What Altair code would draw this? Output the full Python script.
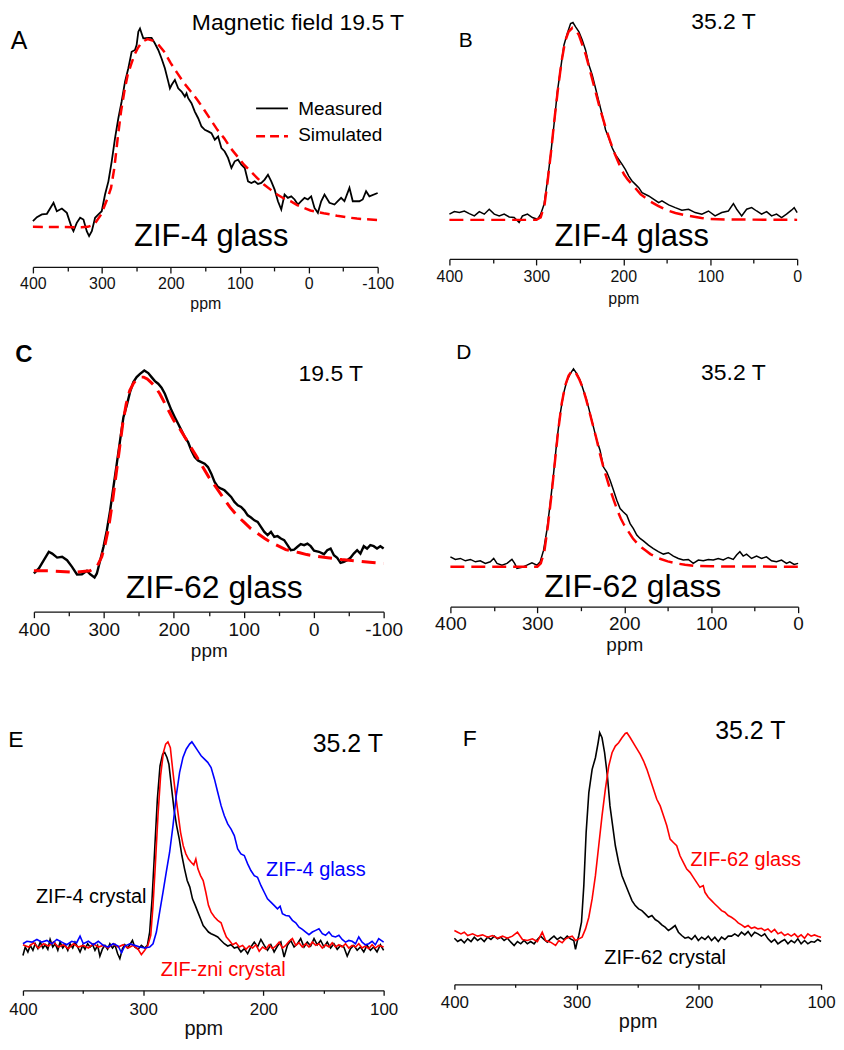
import altair as alt
import pandas as pd

FONT = "Liberation Sans"

# ---------------- Panel A: ZIF-4 glass, 19.5 T ----------------
A_meas_ppm = [400, 394.2, 387, 379.7, 370.1, 365.3, 358, 350.8, 343.6, 341.2,
              336.4, 331.5, 326.7, 321.9, 318.5, 314.6, 309.8, 305, 300.2, 295.4,
              290.5, 285.7, 280.9, 276.1, 271.3, 266.4, 261.6, 256.8, 252, 249.6,
              247.1, 244.7, 242.3, 239.9, 232.7, 227.9, 223, 218.2, 213.4, 208.6,
              203.7, 201.3, 198.9, 194.1, 189.3, 184.4, 179.6, 177.2, 174.8, 170,
              165.2, 160.3, 155.5, 150.7, 145.9, 141.1, 136.2, 131.4, 126.6, 121.8,
              117, 112.1, 107.3, 102.5, 97.7, 92.8, 88, 83.2, 78.4, 73.6,
              68.7, 63.9, 59.1, 54.3, 49.4, 44.6, 39.8, 35, 30.2, 25.3,
              20.5, 15.7, 10.9, 6, 1.2, -3.6, -8.4, -13.3, -18.1, -22.9,
              -30.1, -37.4, -42.2, -47, -51.8, -59.1, -63.9, -73.5, -78.3, -83.2,
              -88, -100]
A_meas_int = [2.9, 4.9, 6.3, 6.6, 12.2, 7.9, 9.3, 7.1, -0.5, -2.2,
              2.0, 4.6, 3.7, -2.2, -4.7, -2.2, 4.6, 6.3, 7.9, 16.4,
              23.1, 33.3, 45.1, 55.2, 63.7, 73.8, 80.6, 89.0, 89.9, 92.4,
              99.2, 100.8, 98.3, 95.8, 96.1, 96.1, 93.2, 89.9, 85.6, 80.6,
              73.8, 70.4, 72.1, 74.7, 70.4, 68.8, 66.2, 67.9, 65.4, 62.8,
              58.6, 55.2, 51.0, 49.3, 48.5, 47.6, 44.3, 45.9, 40.0, 38.3,
              35.0, 29.9, 33.3, 34.1, 31.6, 29.9, 23.1, 22.3, 23.1, 21.8,
              22.3, 24.0, 26.5, 23.1, 18.9, 13.0, 8.8, 16.4, 14.7, 15.5,
              13.9, 11.3, 13.0, 14.7, 13.9, 15.5, 9.6, 7.1, 13.0, 16.4,
              12.2, 11.3, 13.0, 14.7, 13.0, 19.8, 13.0, 13.0, 13.9, 18.1,
              15.5, 17.2]
A_sim_ppm = [400, 330, 320.5, 311, 301, 291.5, 286.7, 281.9, 277, 272.2,
             267.4, 262.6, 257.8, 252.9, 248.1, 243.3, 238.5, 233.7, 228.8, 224,
             219.2, 209.6, 199.9, 190.3, 180.6, 171, 161.4, 151.7, 142.1, 132.4,
             122.8, 113.2, 103.5, 93.9, 84.2, 74.6, 64.9, 55.3, 45.7, 36,
             26.4, 16.7, 7.1, -2.5, -12.2, -21.8, -31.5, -41.1, -50.7, -60.4,
             -70, -79.7, -89.3, -100]
A_sim_int = [0, -0.2, 0, 1.2, 6.3, 14.7, 19.8, 29.9, 45.1, 58.6,
             68.8, 77.2, 82.3, 87.3, 90.7, 93.2, 94.6, 95.4, 94.9, 94.4,
             93.2, 89.0, 83.1, 78.0, 73.0, 68.8, 64.5, 59.5, 54.4, 49.3,
             45.1, 40.0, 35.8, 31.6, 28.2, 24.8, 21.5, 18.9, 16.4, 14.4,
             13.0, 11.0, 9.6, 8.3, 7.6, 6.9, 6.3, 5.6, 5.1, 4.6,
             4.2, 3.9, 3.7, 3.4]

# ---------------- Panel B: ZIF-4 glass, 35.2 T ----------------
B_meas_ppm = [400, 394.3, 388.5, 382.8, 377.1, 371.3, 365.6, 359.9, 354.2, 348.4,
              342.7, 337, 331.2, 325.5, 319.8, 316, 310.2, 304.5, 298.8, 295,
              291.1, 287.3, 283.5, 279.7, 275.8, 272, 268.2, 264.4, 260.6, 257.9,
              254.8, 251, 247.2, 243.4, 239.5, 235.7, 231.9, 228.1, 224.3, 220.4,
              216.6, 212.8, 209, 205.2, 201.3, 197.5, 193.7, 189.9, 186, 182.2,
              178.4, 170.8, 163.1, 159.3, 155.5, 147.8, 140.2, 132.6, 124.9, 117.3,
              109.6, 102, 94.4, 86.7, 79.1, 73.3, 69.5, 63.8, 58.1, 52.3,
              46.6, 40.9, 35.1, 29.4, 23.7, 17.9, 12.2, 6.5, 3.4, 0]
B_meas_int = [2.9, 4.2, 3.7, 4.5, 3.2, 2.0, 4.2, 2.9, 5.4, 2.9,
              2.0, 2.9, 1.5, 1.2, -1.3, 2.0, 2.9, 1.2, 0.3, 2.9,
              7.9, 19.7, 33.1, 48.2, 65.0, 76.8, 88.6, 94.5, 99.5, 100,
              97.8, 95.3, 91.1, 86.1, 78.5, 73.4, 66.7, 60.0, 53.3, 45.7,
              41.5, 36.5, 33.1, 30.6, 28.1, 25.5, 22.2, 19.7, 18.0, 16.3,
              13.8, 12.1, 9.9, 8.7, 9.6, 7.6, 6.2, 4.9, 5.4, 3.7,
              2.9, 4.5, 2.0, 3.7, 4.5, 8.2, 5.4, 2.0, 5.4, 6.2,
              4.5, 2.9, 4.2, 2.0, 2.9, 1.2, 2.9, 4.9, 6.2, 3.7]
B_sim_ppm = [400, 300, 295, 290.5, 287, 283, 279, 275, 271, 267,
             263, 258.5, 255, 251, 247, 243, 239, 235, 231, 227,
             223, 219, 215, 211, 207, 203, 199, 195, 190, 185,
             180, 175, 170, 160, 150, 140, 130, 120, 110, 100,
             80, 0]
B_sim_int = [0, 0, 1.2, 7.9, 19.7, 34.8, 51.6, 66.7, 80.2, 90.3,
             95.3, 97.3, 96.6, 93.6, 88.6, 83.5, 76.8, 70.1, 63.4, 56.6,
             50.8, 44.9, 39.8, 34.8, 30.6, 26.4, 23.0, 20.5, 18.0, 15.5,
             12.9, 11.3, 9.6, 7.1, 4.9, 3.5, 2.5, 1.7, 1.0, 0.5,
             0.2, 0]

# ---------------- Panel C: ZIF-62 glass, 19.5 T ----------------
C_meas_ppm = [400, 392.9, 385.8, 378.7, 373.9, 366.8, 359.7, 352.6, 345.5, 338.4,
              331.3, 324.2, 319.4, 313.3, 310, 305.2, 300.5, 295.7, 291, 286.3,
              281.5, 276.8, 272, 267.3, 262.6, 257.8, 253.1, 248.3, 242.2, 236.5,
              231.8, 227, 222.3, 217.5, 212.8, 208.1, 203.3, 198.6, 193.8, 189.1,
              184.4, 179.6, 174.9, 170.1, 165.4, 160.7, 155.9, 151.2, 146.4, 141.7,
              137, 132.2, 127.5, 122.7, 118, 113.3, 108.5, 103.8, 99.1, 94.3,
              89.6, 84.8, 80.1, 75.4, 70.6, 65.9, 61.1, 56.4, 51.7, 46.9,
              42.2, 37.4, 32.7, 28, 23.2, 18.5, 13.7, 9, 4.3, -0.5,
              -7.6, -14.7, -19.4, -24.2, -28.9, -33.6, -38.4, -43.1, -47.9, -52.6,
              -57.3, -62.1, -66.8, -71.6, -76.3, -81, -85.8, -90.5, -95.3, -100]
C_meas_int = [-1.3, 1.2, 5.3, 9.5, 8.6, 6.6, 7.0, 5.3, 2.0, -1.8,
              -1.7, 0, -1.7, -3.3, -1.3, 5.3, 12.0, 20.3, 30.2, 41.9,
              53.5, 65.1, 76.7, 82.6, 89.2, 94.2, 96.7, 98.3, 100, 98.7,
              96.7, 94.7, 93.4, 91.4, 88.4, 84.2, 80.1, 76.7, 73.4, 70.1,
              66.8, 64.3, 60.1, 56.8, 55.1, 54.3, 53.5, 51.8, 48.5, 44.4,
              41.9, 41.0, 40.2, 38.5, 36.9, 34.4, 32.7, 31.9, 30.2, 27.7,
              26.6, 25.2, 24.4, 21.9, 19.4, 17.8, 19.4, 16.9, 17.3, 16.1,
              15.3, 12.8, 10.3, 10.6, 12.0, 13.3, 12.8, 13.6, 12.3, 10.0,
              9.5, 8.3, 10.3, 11.1, 7.8, 6.5, 4.0, 4.5, 5.3, 6.5,
              8.6, 10.3, 8.6, 12.3, 11.1, 12.8, 12.3, 11.1, 12.3, 11.1]
C_sim_ppm = [400, 380, 340, 320, 310, 303, 298, 293, 288, 283,
             278, 273, 268, 263, 258, 253, 248, 243, 238, 233,
             228, 220, 210, 200, 190, 180, 170, 160, 150, 140,
             130, 120, 110, 100, 90, 80, 70, 60, 50, 40,
             30, 20, 10, 0, -20, -40, -60, -80, -100]
C_sim_int = [0, 0, -0.7, 0, 2.0, 7.0, 13.6, 21.9, 33.6, 46.8,
             60.1, 73.4, 83.4, 90.0, 93.4, 95.8, 96.7, 96.7, 95.8, 94.2,
             92.5, 88.4, 81.7, 75.1, 70.1, 64.3, 58.5, 52.7, 46.8, 41.9,
             36.9, 31.9, 27.7, 24.4, 21.1, 18.6, 16.1, 14.0, 12.3, 10.6,
             9.8, 9.0, 8.1, 7.5, 6.5, 5.6, 5.0, 4.3, 3.7]

# ---------------- Panel D: ZIF-62 glass, 35.2 T ----------------
D_meas_ppm = [400, 394.3, 388.5, 382.8, 377, 371.3, 365.6, 359.8, 354.1, 350.2,
              346.4, 340.7, 334.9, 329.2, 326.1, 323.4, 317.7, 312, 306.2, 300.5,
              296.7, 292.8, 289, 285.2, 281.3, 277.5, 273.7, 269.9, 266, 262.2,
              258.4, 254.5, 250.7, 246.9, 243.1, 239.2, 235.4, 231.6, 227.8, 223.9,
              220.1, 216.3, 212.4, 208.6, 204.8, 201, 197.1, 193.3, 189.5, 185.6,
              181.8, 178, 172.2, 166.5, 160.8, 155, 149.3, 143.5, 137.8, 132.1,
              126.3, 120.6, 114.8, 109.1, 103.3, 97.6, 91.9, 86.1, 80.4, 74.6,
              70.8, 67, 63.2, 59.3, 53.6, 47.8, 42.1, 36.4, 30.6, 24.9,
              19.1, 13.4, 9.6, 4.6, 0]
D_meas_int = [5.0, 3.7, 4.2, 3.0, 3.7, 2.5, 3.0, 1.7, 2.5, 4.2,
              1.7, 0.8, 1.7, 3.7, 1.7, -0.8, -0.3, 0.8, 2.0, 0.8,
              2.5, 8.4, 18.5, 31.9, 47.1, 63.9, 77.3, 87.4, 94.1, 97.5,
              100, 97.5, 94.1, 89.1, 84.0, 77.3, 70.6, 63.9, 58.8, 50.4,
              47.9, 43.7, 38.7, 33.6, 29.4, 27.7, 26.1, 21.8, 19.3, 16.0,
              14.3, 13.1, 10.9, 9.2, 7.6, 6.4, 7.1, 5.4, 4.2, 3.4,
              3.7, 1.7, 3.4, 3.0, 3.7, 3.4, 4.2, 3.4, 4.7, 3.7,
              5.9, 7.6, 5.4, 6.4, 4.2, 5.4, 4.2, 5.0, 3.0, 2.5,
              3.4, 1.7, 2.5, 1.2, 1.7]
D_sim_ppm = [400, 300, 296, 292, 288, 284, 280, 276, 272, 268,
             264, 260, 256, 252, 248, 244, 240, 236, 232, 228,
             224, 220, 216, 212, 208, 204, 200, 195, 190, 185,
             180, 175, 170, 160, 150, 140, 130, 120, 100, 0]
D_sim_int = [0, 0, 1.7, 7.6, 20.2, 35.3, 52.1, 68.9, 82.4, 91.6,
             96.6, 99.2, 98.3, 95.0, 90.8, 84.9, 78.2, 71.4, 64.7, 57.1,
             50.4, 44.5, 38.7, 33.6, 28.6, 24.4, 21.0, 17.6, 14.3, 11.8,
             9.7, 8.1, 6.4, 4.2, 2.7, 1.7, 1.0, 0.5, 0.2, 0]

# ---------------- Panel E: 35.2 T, ZIF-4 crystal / ZIF-zni crystal / ZIF-4 glass ----------------
E_c4_ppm = [400, 398.1, 395.9, 393.9, 391.7, 389.8, 387.6, 385.6, 383.4, 381.5,
            379.3, 377.4, 375.2, 373.2, 371, 369.1, 366.9, 364.9, 362.7, 360.8,
            358.6, 356.7, 354.5, 352.5, 350.3, 348.4, 346.2, 344.2, 342, 340.1,
            337.9, 336, 333.8, 331.8, 329.6, 327.7, 325.5, 323.5, 321.3, 319.4,
            317.2, 315.3, 313.1, 311.1, 308.9, 307, 304.2, 301.5, 298.7, 296.5,
            294.6, 292.6, 290.4, 288.2, 286, 283.8, 282.1, 280.2, 278.6, 276.6,
            274.4, 272.2, 270, 267.8, 265.6, 263.4, 261.2, 259, 256.7, 254.5,
            252.3, 250.1, 247.9, 245.7, 243.5, 240.7, 238, 235.2, 232.5, 229.7,
            226.9, 224.2, 221.4, 218.7, 215.9, 213.1, 210.4, 207.6, 204.9, 202.1,
            199.3, 196.6, 193.8, 191.1, 188.3, 185.5, 182.8, 180, 177.3, 174.5,
            171.7, 169, 166.2, 163.5, 160.7, 157.9, 155.2, 152.4, 149.6, 146.9,
            144.1, 141.4, 138.6, 135.8, 133.1, 130.3, 127.6, 124.8, 122, 119.3,
            116.5, 113.8, 111, 108.3, 105.5, 102.7, 100]
E_c4_int = [-4.1, 0, -2.4, 0.8, -1.6, 1.6, -0.8, 2.4, -0.5, 1.1,
            -1.1, 3.7, 0, 1.6, -1.6, 2.4, -0.5, 1.1, -1.6, 1.6,
            -0.5, 2.4, 0, -2.4, 0.8, -1.1, 1.6, 0, 1.1, -1.6,
            0.8, -4.4, -0.8, 0.8, -1.1, 1.6, -0.5, 1.1, -3.2, -5.7,
            -0.8, 1.1, -0.5, 1.1, 3.2, 0, -1.1, 0.8, -0.5, 0.8,
            7.3, 23.5, 47.8, 72.1, 88.3, 94.0, 94.8, 92.4, 89.1, 78.6,
            67.3, 59.2, 52.7, 44.6, 38.1, 32.4, 29.2, 23.5, 20.3, 17.0,
            13.8, 10.5, 8.9, 7.3, 6.5, 5.7, 4.9, 3.2, 1.6, 0.5,
            1.1, -0.5, 0, -2.4, -0.8, -3.2, 0, 2.4, 0, 3.7,
            0.8, -1.6, 1.1, -2.4, 0.5, 2.4, -4.9, 0.8, 3.2, 0,
            1.6, 4.1, 0, 2.4, 0.5, 4.1, 1.1, 3.2, 0, 2.4,
            -0.5, 1.6, -1.1, 0.8, 0, -4.4, -0.8, 0.8, -1.6, 0,
            -2.4, 0.8, -1.6, 0, -2.4, 1.1, -1.6]
E_zni_ppm = [400, 395.3, 391.2, 387, 382.9, 378.7, 374.6, 370.5, 366.3, 362.2,
             358, 353.9, 349.8, 345.6, 341.5, 337.3, 333.2, 329.1, 324.9, 320.8,
             316.6, 312.5, 308.4, 304.2, 301.5, 298.7, 296.1, 293.7, 291.8, 289.9,
             287.7, 285.5, 283.2, 281.3, 279.4, 277.4, 275.5, 273.3, 271.1, 268.9,
             266.7, 264.5, 262.3, 260.1, 257.9, 256.2, 254.5, 252.3, 250.1, 247.9,
             245.7, 243.5, 240.7, 238, 235.2, 233, 230.8, 228.3, 225.6, 222.8,
             220, 217.3, 214.5, 211.8, 209, 206.2, 203.5, 200.7, 198, 195.2,
             192.4, 189.7, 186.9, 184.2, 181.4, 178.6, 175.9, 173.1, 170.4, 167.6,
             164.8, 162.1, 159.3, 156.5, 153.8, 151, 148.3, 145.5, 142.8, 140,
             137.2, 134.5, 131.7, 129, 126.2, 123.4, 120.7, 117.9, 115.2, 112.4,
             109.6, 106.9, 104.1, 100]
E_zni_int = [1.1, 0, 2.1, -0.5, 1.6, 0.5, 2.4, 0, 1.1, -0.8,
             1.6, 0, 0.8, -0.5, 1.6, 0, 0.8, -0.5, 1.6, 0,
             1.1, -0.5, 0.8, -1.1, -3.7, -1.6, 0.8, 5.7, 20.3, 39.7,
             64.0, 83.5, 94.8, 98.9, 100, 97.2, 86.7, 75.4, 65.6, 55.9,
             49.4, 45.4, 42.9, 41.3, 40.0, 42.9, 38.1, 34.8, 32.4, 26.7,
             20.3, 17.0, 14.6, 13.0, 11.8, 8.1, 4.9, 3.2, 1.1, 2.1,
             0, 0.8, -1.1, 0.5, -0.5, 1.1, -2.1, 0, -1.1, 1.1,
             -0.8, 0.5, 2.4, -0.5, 0.8, 2.8, 4.1, 0.8, 2.1, 0,
             1.6, 0, 2.4, 0.8, 1.6, -0.5, 1.1, 0, 2.1, 0,
             1.1, 0, 1.6, -0.5, 0.8, 0, 1.6, -0.5, 0.5, -0.8,
             1.1, -0.5, 0.8, 0]
E_g4_ppm = [400, 396.7, 392.5, 388.4, 384.3, 380.1, 376, 371.8, 367.7, 363.6,
            359.4, 355.3, 352.5, 349.8, 345.6, 341.5, 337.3, 333.2, 329.1, 324.9,
            320.8, 318, 315.3, 311.1, 307, 302.8, 298.7, 294.6, 291.8, 289,
            286.3, 283.5, 280.8, 278, 275.2, 272.5, 269.7, 266.9, 264.2, 261.4,
            259.5, 257.3, 254.5, 251.8, 249, 246.3, 243.5, 240.7, 238, 235.2,
            232.5, 229.7, 226.9, 224.2, 221.4, 218.7, 215.9, 213.1, 210.4, 207.6,
            204.9, 202.1, 199.3, 196.6, 193.8, 191.1, 188.3, 186.1, 184.2, 181.4,
            178.6, 175.9, 173.1, 170.4, 167.6, 164.8, 162.1, 159.3, 156.5, 153.8,
            151, 148.3, 145.5, 142.8, 140, 137.2, 134.5, 131.7, 129, 126.2,
            123.4, 120.7, 117.9, 115.2, 112.4, 109.6, 106.9, 104.1, 100]
E_g4_int = [1.6, 2.8, 2.4, 3.7, 2.4, 3.2, 1.6, 3.7, 2.4, 1.1,
            2.8, 2.1, 5.3, 1.6, 2.8, 1.1, 2.8, 0.8, 0, 1.6,
            0.5, -2.8, 0.5, 1.6, 0.8, 0, -0.5, 0, 1.6, 7.3,
            17.0, 26.7, 36.5, 46.2, 59.2, 73.7, 85.1, 92.4, 96.4, 98.9,
            100, 98.1, 95.6, 93.2, 91.6, 90.0, 87.5, 81.8, 75.4, 68.9,
            64.0, 60.0, 57.5, 54.3, 47.8, 45.4, 44.6, 40.5, 37.3, 34.8,
            34.0, 30.0, 26.7, 23.5, 21.9, 20.3, 18.6, 19.9, 16.2, 15.4,
            15.1, 13.0, 11.8, 9.7, 8.6, 7.3, 6.0, 7.3, 8.1, 8.9,
            6.5, 5.7, 7.3, 5.3, 4.9, 5.7, 3.7, 2.4, 3.2, 2.8,
            1.6, 4.9, 2.4, 1.1, 1.6, 2.8, 1.1, 4.1, 2.4]

# ---------------- Panel F: 35.2 T, ZIF-62 crystal / ZIF-62 glass ----------------
F_c62_ppm = [400, 397.3, 394.6, 391.9, 389.1, 386.4, 383.7, 381, 378.3, 375.6,
             372.8, 370.1, 367.4, 364.7, 362, 359.3, 356.6, 353.8, 351.1, 348.4,
             345.7, 343, 340.3, 337.6, 334.8, 332.1, 329.4, 326.7, 324, 321.3,
             318.5, 315.8, 313.1, 310.4, 307.7, 305, 302.3, 300.9, 299.5, 298.2,
             296, 294.1, 292.2, 290, 287.3, 284.6, 282.4, 281.1, 279.2, 277.1,
             274.8, 272.7, 270.5, 268.3, 265.6, 262.9, 260.2, 257.5, 254.7, 252,
             249.3, 246.6, 243.9, 241.2, 238.4, 235.7, 233, 230.3, 227.6, 224.9,
             222.2, 219.4, 216.7, 214, 211.3, 208.6, 205.9, 203.1, 200.4, 197.7,
             195, 192.3, 189.6, 186.9, 184.1, 181.4, 178.7, 176, 173.3, 170.6,
             167.8, 165.1, 162.4, 159.7, 157, 154.3, 151.6, 148.8, 146.1, 143.4,
             140.7, 138, 135.3, 132.6, 129.8, 127.1, 124.4, 121.7, 119, 116.3,
             113.5, 110.8, 108.1, 105.4, 102.7, 100]
F_c62_int = [1.1, -0.5, 0.5, -1.1, 0.8, -0.5, 1.6, 0, 1.1, -0.5,
             1.6, 0.5, 2.1, 0.8, 1.6, 0, 1.1, -0.8, -2.4, -0.5,
             -1.6, 0, -1.6, -0.5, -1.6, 0.5, 2.1, 0.5, -0.8, 0.8,
             2.1, 0.5, 1.6, 0.5, 2.1, 0.8, 0, -4.3, -0.5, 2.4,
             8.8, 26.4, 52.0, 71.2, 82.4, 88.0, 95.2, 100, 97.6, 90.4,
             79.2, 64.8, 55.2, 45.6, 37.6, 31.2, 27.2, 23.2, 19.2, 16.8,
             15.2, 14.4, 12.8, 11.2, 12.0, 10.1, 9.1, 7.5, 6.4, 4.8,
             5.9, 7.2, 4.0, 2.4, 1.1, 1.6, 0.5, 2.4, 0, 1.6,
             0.5, 2.1, 0, 1.6, -0.5, 1.6, 0.5, 2.1, 2.1, 3.2,
             2.1, 4.0, 2.7, 4.3, 2.1, 4.0, 3.2, 2.1, 3.2, 0.8,
             -0.8, 0.5, -1.6, -0.5, 0.5, -1.6, 0, -1.1, 0.8, -1.6,
             0, -1.6, -0.5, -0.8, 0.5, -0.5]
F_g62_ppm = [400, 397.3, 394.6, 391.9, 389.1, 385.1, 381, 376.9, 372.8, 368.8,
             364.7, 360.6, 356.6, 352.5, 348.4, 344.3, 340.3, 336.2, 332.1, 328.1,
             325.3, 321.3, 317.2, 314.5, 311.8, 309, 306.3, 303.6, 300.9, 298.2,
             295.5, 292.7, 290, 287.3, 284.6, 281.9, 279.2, 276.5, 273.7, 271,
             268.3, 265.6, 262.9, 260.2, 258.8, 256.1, 252, 247.9, 245.2, 242.5,
             239.8, 237.1, 234.4, 231.6, 228.9, 226.2, 223.5, 220.8, 218.1, 215.4,
             212.7, 209.9, 207.2, 204.5, 201.8, 199.1, 196.4, 195, 192.3, 189.6,
             186.9, 184.1, 181.4, 178.7, 176, 173.3, 170.6, 167.8, 165.1, 162.4,
             159.7, 157, 154.3, 151.6, 148.8, 146.1, 143.4, 140.7, 138, 135.3,
             132.6, 129.8, 127.1, 124.4, 121.7, 119, 116.3, 113.5, 110.8, 108.1,
             105.4, 102.7, 100]
F_g62_int = [4.8, 4.0, 3.2, 4.0, 2.4, 3.2, 2.1, 2.7, 1.6, 2.4,
             1.1, 2.1, 1.1, 2.1, 4.0, 0.5, 0, 0.8, -0.5, 4.0,
             0, -0.8, -2.4, 0, -1.1, 0.8, 1.6, 2.1, 0, 0.8,
             1.6, 5.6, 11.2, 20.0, 31.2, 45.6, 60.0, 72.8, 84.0, 90.4,
             93.6, 95.2, 97.6, 99.7, 100, 97.6, 93.6, 89.6, 86.4, 82.4,
             77.6, 72.8, 68.0, 64.8, 60.0, 55.2, 48.8, 47.2, 45.6, 40.8,
             37.6, 34.4, 32.8, 30.4, 28.0, 25.6, 26.4, 23.2, 20.8, 19.2,
             17.6, 16.0, 14.4, 13.6, 12.0, 11.2, 10.1, 8.5, 7.5, 6.4,
             7.2, 5.9, 6.4, 5.6, 5.9, 4.8, 5.6, 4.0, 5.3, 3.2,
             4.0, 2.4, 3.2, 2.1, 3.2, 1.6, 2.7, 1.1, 3.2, 2.1,
             2.7, 2.1, 1.6]

# ---------------- annotations (ppm, intensity) ----------------
A_text = ["A", "Magnetic field 19.5 T", "Measured", "Simulated", "ZIF-4 glass"]
A_tx = [420, 15.6, -45.8, -45.8, 141.3]
A_ty = [90.6, 100.0, 57.0, 43.4, -9.8]
A_ts = [25, 23, 19, 19, 31]
A_leg_x0 = [76.3, 76.3]
A_leg_x1 = [30.1, 30.1]
A_leg_y = [60.2, 46.0]

B_text = ["B", "35.2 T", "ZIF-4 glass"]
B_tx = [381.1, 84.8, 190.3]
B_ty = [87.7, 96.6, -13.1]
B_ts = [21, 23, 31]

C_text = ["19.5 T", "ZIF-62 glass"]
C_tx = [-24.5, 142.2]
C_ty = [95.0, -13.6]
C_ts = [23, 32]
C_bold = ["C"]
C_bx = [414.2]
C_by = [104.0]
C_bs = [24]

D_text = ["D", "35.2 T", "ZIF-62 glass"]
D_tx = [384.5, 74.5, 190.3]
D_ty = [105.2, 94.2, -15.3]
D_ts = [21, 23, 32]

E_text = ["E", "35.2 T", "ZIF-4 crystal", "ZIF-4 glass", "ZIF-zni crystal"]
E_tx = [405.8, 129.8, 343.2, 156.4, 233.4]
E_ty = [97.4, 94.9, 21.5, 34.7, -14.0]
E_ts = [23, 25, 20, 20, 20]
E_tc = ["#000000", "#000000", "#000000", "#0000ff", "#ff0000"]

F_text = ["F", "35.2 T", "ZIF-62 glass", "ZIF-62 crystal"]
F_tx = [387.4, 157.9, 161.6, 227.6]
F_ty = [93.5, 96.8, 36.0, -11.5]
F_ts = [23, 25, 20, 20]
F_tc = ["#000000", "#000000", "#ff0000", "#000000"]

BLACK = "#000000"
RED = "#ff0000"
BLUE = "#0000ff"


def series_df(ppm, inten):
    return pd.DataFrame({"ppm": ppm, "I": inten})


def text_df(texts, xs, ys, sizes, colors=None):
    if colors is None:
        colors = [BLACK] * len(texts)
    return pd.DataFrame({"t": texts, "x": xs, "y": ys, "s": sizes, "c": colors})


def panel(series, texts, xdom, xrng, ydom, width, height, ticks,
          label_size, title_size, label_pad, title_pad, major_tick,
          minor_tick, bold_texts=None, legend=None):
    xs = alt.Scale(domain=xdom, range=xrng, nice=False, zero=False)
    ys = alt.Scale(domain=ydom, nice=False, zero=False)
    ax = alt.Axis(
        values=ticks,
        labelExpr="datum.value % 100 === 0 ? '' + datum.value : ''",
        tickSize={"condition": {"test": "datum.value % 100 === 0", "value": major_tick},
                  "value": minor_tick},
        grid=False, labelFlush=False, labelOverlap=False,
        domainColor="#111111", tickColor="#111111", domainWidth=1.3, tickWidth=1.3,
        labelColor="#111111", labelFont=FONT, labelFontSize=label_size,
        labelPadding=label_pad,
        title="ppm", titleFont=FONT, titleFontSize=title_size,
        titleFontWeight="normal", titleColor="#111111", titlePadding=title_pad,
    )
    layers = []
    for df, color, sw, dash in series:
        kw = dict(color=color, strokeWidth=sw)
        if dash:
            kw["strokeDash"] = dash
        layers.append(
            alt.Chart(df).mark_line(**kw).encode(
                x=alt.X("ppm:Q", scale=xs, axis=ax),
                y=alt.Y("I:Q", scale=ys, axis=None),
            )
        )
    if legend is not None:
        for ldf, color, sw, dash in legend:
            kw = dict(color=color, strokeWidth=sw)
            if dash:
                kw["strokeDash"] = dash
            layers.append(
                alt.Chart(ldf).mark_rule(**kw).encode(
                    x=alt.X("x0:Q", scale=xs, axis=ax),
                    x2="x1:Q",
                    y=alt.Y("y:Q", scale=ys, axis=None),
                )
            )
    layers.append(
        alt.Chart(texts).mark_text(font=FONT, baseline="alphabetic", align="center").encode(
            x=alt.X("x:Q", scale=xs, axis=ax),
            y=alt.Y("y:Q", scale=ys, axis=None),
            text="t:N",
            color=alt.Color("c:N", scale=None),
            size=alt.Size("s:Q", scale=None),
        )
    )
    if bold_texts is not None:
        layers.append(
            alt.Chart(bold_texts).mark_text(font=FONT, baseline="alphabetic",
                                            align="center", fontWeight="bold").encode(
                x=alt.X("x:Q", scale=xs, axis=ax),
                y=alt.Y("y:Q", scale=ys, axis=None),
                text="t:N",
                color=alt.Color("c:N", scale=None),
                size=alt.Size("s:Q", scale=None),
            )
        )
    return alt.layer(*layers).properties(width=width, height=height)


ticks_A = list(range(-100, 401, 50))
ticks_B = list(range(0, 401, 50))
ticks_E = list(range(100, 401, 50))

leg_A = [
    (pd.DataFrame({"x0": A_leg_x0[:1], "x1": A_leg_x1[:1], "y": A_leg_y[:1]}), BLACK, 1.8, None),
    (pd.DataFrame({"x0": A_leg_x0[1:], "x1": A_leg_x1[1:], "y": A_leg_y[1:]}), RED, 2.5, [9, 5]),
]

pA = panel(
    [(series_df(A_meas_ppm, A_meas_int), BLACK, 1.8, None),
     (series_df(A_sim_ppm, A_sim_int), RED, 2.5, [10, 6])],
    text_df(A_text, A_tx, A_ty, A_ts),
    [400, -100], [10, 356], [-20.4, 110.3], 362, 258, ticks_A,
    16, 16, 3, 4, 6, 4, legend=leg_A,
)
pB = panel(
    [(series_df(B_meas_ppm, B_meas_int), BLACK, 1.5, None),
     (series_df(B_sim_ppm, B_sim_int), RED, 2.5, [14, 7])],
    text_df(B_text, B_tx, B_ty, B_ts),
    [400, 0], [0, 349], [-19.8, 106.4], 349, 250, ticks_B,
    16, 16, 4, 6, 6, 4,
)
pC = panel(
    [(series_df(C_meas_ppm, C_meas_int), BLACK, 2.4, None),
     (series_df(C_sim_ppm, C_sim_int), RED, 3, [14, 8])],
    text_df(C_text, C_tx, C_ty, C_ts),
    [400, -100], [11, 362], [-20.4, 114.9], 362, 272, ticks_A,
    19, 19, 3, 2, 6, 4, bold_texts=text_df(C_bold, C_bx, C_by, C_bs),
)
pD = panel(
    [(series_df(D_meas_ppm, D_meas_int), BLACK, 1.5, None),
     (series_df(D_sim_ppm, D_sim_int), RED, 2.5, [14, 7])],
    text_df(D_text, D_tx, D_ty, D_ts),
    [400, 0], [1, 350], [-20.2, 114.3], 350, 267, ticks_B,
    19, 19, 2, 2, 6, 4,
)
pE = panel(
    [(series_df(E_c4_ppm, E_c4_int), BLACK, 1.6, None),
     (series_df(E_zni_ppm, E_zni_int), RED, 1.6, None),
     (series_df(E_g4_ppm, E_g4_int), BLUE, 1.6, None)],
    text_df(E_text, E_tx, E_ty, E_ts, E_tc),
    [400, 100], [0, 362], [-21.1, 127.5], 362, 306, ticks_E,
    17, 20, 6, 1, 5, 3,
)
pF = panel(
    [(series_df(F_c62_ppm, F_c62_int), BLACK, 1.6, None),
     (series_df(F_g62_ppm, F_g62_int), RED, 1.6, None)],
    text_df(F_text, F_tx, F_ty, F_ts, F_tc),
    [400, 100], [5, 373], [-21.1, 122.8], 373, 300, ticks_E,
    17, 20, 5, 1, 5, 3,
)

chart = alt.concat(
    pA, pB, pC, pD, pE, pF,
    columns=2,
    spacing={"row": 74, "column": 66},
    bounds="flush",
).properties(padding=0).configure_view(stroke=None)

chart.save("out.html", embed_options={"renderer": "svg", "actions": False})
